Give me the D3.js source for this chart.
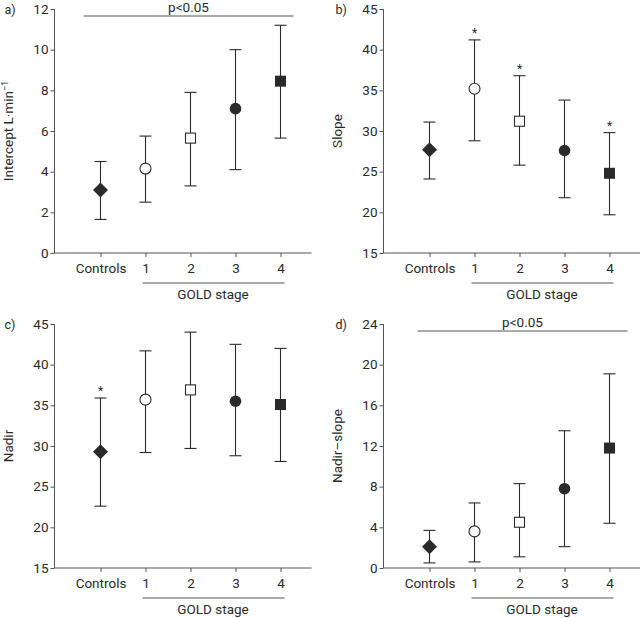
<!DOCTYPE html>
<html><head><meta charset="utf-8">
<script src="https://cdn.jsdelivr.net/npm/d3@7"></script>
<style>
body{margin:0;background:#fff;}
svg text{font-family:"Roboto","DejaVu Sans",sans-serif;fill:#2a2a2a;}
</style></head>
<body><svg id="c" width="640" height="618"></svg>
<script>
const categories = ["Controls","1","2","3","4"];
const shapes = ["diamond","openCircle","openSquare","circle","square"];

const interceptMean = [3.1, 4.15, 5.65, 7.1, 8.45];
const interceptLow  = [1.65, 2.5, 3.3, 4.1, 5.65];
const interceptHigh = [4.5, 5.75, 7.9, 10.0, 11.2];
const interceptTicks = [0,2,4,6,8,10,12];

const slopeMean = [27.7, 35.2, 31.2, 27.6, 24.8];
const slopeLow  = [24.1, 28.8, 25.8, 21.8, 19.7];
const slopeHigh = [31.1, 41.2, 36.8, 33.8, 29.8];
const slopeStars = [false,true,true,false,true];
const slopeTicks = [15,20,25,30,35,40,45];

const nadirMean = [29.3, 35.7, 36.9, 35.5, 35.1];
const nadirLow  = [22.6, 29.2, 29.7, 28.8, 28.1];
const nadirHigh = [35.9, 41.7, 44.0, 42.5, 42.0];
const nadirStars = [true,false,false,false,false];
const nadirTicks = [15,20,25,30,35,40,45];

const nsMean = [2.1, 3.6, 4.5, 7.8, 11.8];
const nsLow  = [0.5, 0.6, 1.1, 2.1, 4.4];
const nsHigh = [3.7, 6.4, 8.3, 13.5, 19.1];
const nsTicks = [0,4,8,12,16,20,24];

const svg = d3.select("#c");
const ink = "#2a2a2a";
const fs = 13.5;

function panel(o){
  const g = svg.append("g").attr("transform",`translate(${o.ox},${o.oy})`);
  const x = d3.scalePoint().domain(categories).range([46,226]);
  const y = d3.scaleLinear().domain(o.domain).range([244,0]);
  const yAxis = d3.axisLeft(y).tickValues(o.ticks).tickSize(4).tickPadding(2);
  const ya = g.append("g").call(yAxis);
  ya.select(".domain").attr("stroke","#555").attr("d","M0,244V0");
  ya.selectAll(".tick line").attr("stroke","#555");
  ya.selectAll("text").attr("font-size",fs).style("fill",ink);
  const xAxis = d3.axisBottom(x).tickSize(4).tickPadding(6);
  const xa = g.append("g").attr("transform","translate(0,244)").call(xAxis);
  xa.select(".domain").attr("stroke","#555").attr("d",`M0,0H${o.xend}`);
  xa.selectAll(".tick line").attr("stroke","#555");
  xa.selectAll("text").attr("font-size",fs).style("fill",ink);
  // GOLD stage
  g.append("line").attr("x1",x("1")-3).attr("x2",x("4")+4).attr("y1",274).attr("y2",274).attr("stroke","#555");
  g.append("text").attr("x",(x("1")+x("4"))/2).attr("y",289.5).attr("text-anchor","middle").attr("font-size",fs).text("GOLD stage");
  // y label
  const yl = g.append("text").attr("transform",`translate(${o.ylx},122) rotate(-90)`).attr("text-anchor","middle").attr("font-size",fs);
  if(o.ylabel==="intercept"){
    yl.text("Intercept L·min");
    yl.append("tspan").attr("baseline-shift","super").attr("font-size",9).text("−1");
  } else yl.text(o.ylabel);
  // panel label
  g.append("text").attr("x",o.plx).attr("y",5).attr("font-size",12.5).text(o.letter);
  // p bar
  if(o.pbar){
    g.append("line").attr("x1",o.pbar[0]).attr("x2",o.pbar[1]).attr("y1",7).attr("y2",7).attr("stroke","#555");
    g.append("text").attr("x",(o.pbar[0]+o.pbar[1])/2).attr("y",3).attr("text-anchor","middle").attr("font-size",fs).text("p<0.05");
  }
  const data = categories.map((c,i)=>({c,i,m:o.mean[i],lo:o.low[i],hi:o.high[i],s:shapes[i],star:o.stars?o.stars[i]:false}));
  const eg = g.append("g").attr("stroke",ink).attr("stroke-width",1.1);
  data.forEach(d=>{
    const cx=x(d.c);
    eg.append("line").attr("x1",cx).attr("x2",cx).attr("y1",y(d.lo)).attr("y2",y(d.hi));
    eg.append("line").attr("x1",cx-6).attr("x2",cx+6).attr("y1",y(d.lo)).attr("y2",y(d.lo));
    eg.append("line").attr("x1",cx-6).attr("x2",cx+6).attr("y1",y(d.hi)).attr("y2",y(d.hi));
    const cy=y(d.m);
    if(d.s==="diamond"){
      g.append("path").attr("d",`M${cx},${cy-7.5}L${cx+7.5},${cy}L${cx},${cy+7.5}L${cx-7.5},${cy}Z`).attr("fill",ink);
    } else if(d.s==="openCircle"){
      g.append("circle").attr("cx",cx).attr("cy",cy).attr("r",5.5).attr("fill","#fff").attr("stroke",ink).attr("stroke-width",1.1);
    } else if(d.s==="openSquare"){
      g.append("rect").attr("x",cx-5).attr("y",cy-5).attr("width",10).attr("height",10).attr("fill","#fff").attr("stroke",ink).attr("stroke-width",1.1);
    } else if(d.s==="circle"){
      g.append("circle").attr("cx",cx).attr("cy",cy).attr("r",5.8).attr("fill",ink);
    } else {
      g.append("rect").attr("x",cx-5.5).attr("y",cy-5.5).attr("width",11).attr("height",11).attr("fill",ink);
    }
    if(d.star){
      g.append("text").attr("x",cx).attr("y",y(d.hi)-3).attr("text-anchor","middle").attr("font-size",12).text("*");
    }
  });
}

panel({ox:54.5,oy:9,domain:[0,12],ticks:interceptTicks,mean:interceptMean,low:interceptLow,high:interceptHigh,
  ylabel:"intercept",ylx:-42,plx:-50,letter:"a)",pbar:[29,239],xend:257});
panel({ox:383.5,oy:9,domain:[15,45],ticks:slopeTicks,mean:slopeMean,low:slopeLow,high:slopeHigh,stars:slopeStars,
  ylabel:"Slope",ylx:-42,plx:-48,letter:"b)",xend:257});
panel({ox:54.5,oy:324,domain:[15,45],ticks:nadirTicks,mean:nadirMean,low:nadirLow,high:nadirHigh,stars:nadirStars,
  ylabel:"Nadir",ylx:-42,plx:-50,letter:"c)",xend:257});
panel({ox:383.5,oy:324,domain:[0,24],ticks:nsTicks,mean:nsMean,low:nsLow,high:nsHigh,
  ylabel:"Nadir–slope",ylx:-42,plx:-48,letter:"d)",pbar:[34,244],xend:257});
</script></body></html>
